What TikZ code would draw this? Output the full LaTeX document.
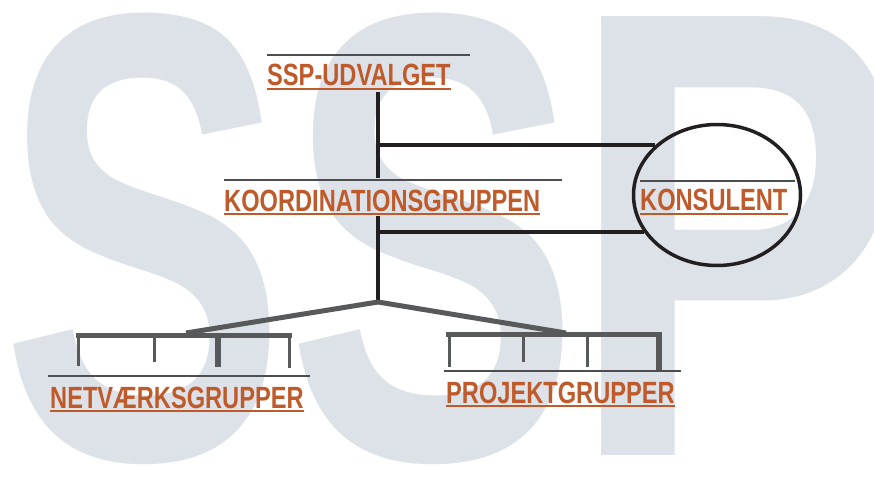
\documentclass[tikz,border=0pt]{standalone}
\usepackage{fontspec}
\setmainfont{Liberation Sans}
\usepackage{graphicx}
\usepackage{tikz}
\usetikzlibrary{shapes.geometric}
\definecolor{rust}{HTML}{BF5A2B}
\definecolor{ssp}{HTML}{DDE2E9}
\definecolor{ink}{HTML}{231F20}
\definecolor{steel}{HTML}{58595B}
\definecolor{rulegray}{HTML}{4D4D4F}
\tikzset{trunk/.style={draw=ink, line width=4.5pt}}
\tikzset{branch/.style={draw=steel, line width=5pt}}
\tikzset{leg/.style={draw=steel, line width=3pt}}
\tikzset{overline/.style={draw=rulegray, line width=1.3pt}}
\tikzset{underline/.style={draw=rust, line width=1.6pt}}
\tikzset{title/.style={text=rust, font=\bfseries\fontsize{30.7}{32}\selectfont}}
\tikzset{bgletter/.style={text=ssp, font=\bfseries\fontsize{638}{638}\selectfont}}
\tikzset{ring/.style={draw=ink, ellipse, line width=3.5pt, minimum width=167pt, minimum height=141pt, anchor=center}}
\newcommand{\condensed}[1]{\scalebox{0.77}[1]{#1}}

\begin{document}
\begin{tikzpicture}[x=1pt, y=-1pt]
	% Default action for each node
	\tikzstyle{every node}=[inner sep=0pt, anchor=base west];
	\useasboundingbox (0,0) rectangle (874,476);

	% BACKGROUND
	\begin{scope}
		\clip (0,0) rectangle (874,476);
		\node[bgletter] (bg s1) at (1,458) {\scalebox{0.67}[1]{S}};
		\node[bgletter] (bg s2) at (286,458) {\scalebox{0.69}[1]{S}};
		\node[bgletter] (bg p) at (567,455) {\scalebox{0.8}[1]{P}};
	\end{scope}

	% LABELS
	\node[title] (udvalg) at (267,86) {\condensed{SSP-UDVALGET}};
	\node[title] (koord) at (224,211) {\condensed{KOORDINATIONSGRUPPEN}};
	\node[title] (konsulent) at (640,210) {\condensed{KONSULENT}};
	\node[title] (netvaerk) at (50,408) {\condensed{NETVÆRKSGRUPPER}};
	\node[title] (projekt) at (446,403) {\condensed{PROJEKTGRUPPER}};

	% over- and underlines
	\draw[overline] ([yshift=31pt]udvalg.base west) -- ++(203,0);
	\draw[overline] ([yshift=31pt]koord.base west) -- ++(338,0);
	\draw[overline] ([yshift=29pt]konsulent.base west) -- ++(155,0);
	\draw[overline] ([xshift=-2pt,yshift=32pt]netvaerk.base west) -- ++(262,0);
	\draw[overline] ([xshift=-2pt,yshift=32pt]projekt.base west) -- ++(237,0);

	\draw[underline] ([yshift=-3pt]udvalg.base west) -- ([yshift=-3pt]udvalg.base east);
	\draw[underline] ([yshift=-3pt]koord.base west) -- ([yshift=-3pt]koord.base east);
	\draw[underline] ([yshift=-4pt]konsulent.base west) -- ([yshift=-4pt]konsulent.base east);
	\draw[underline] ([yshift=-3pt]netvaerk.base west) -- ([yshift=-3pt]netvaerk.base east);
	\draw[underline] ([yshift=-3pt]projekt.base west) -- ([yshift=-3pt]projekt.base east);

	% RING
	\node[ring] (ring) at (717,195) {};

	% Trunk
	\coordinate (fork) at (378,302);
	\coordinate (hook up) at (378,145);
	\coordinate (hook down) at (378,232);
	\draw[trunk] ([yshift=-6pt]udvalg.base -| fork) -- ([yshift=33pt]koord.base -| fork);
	\draw[trunk] ([yshift=-5pt]koord.base -| fork) -- (fork);
	\draw[trunk] (hook up) -- (hook up -| ring.141);
	\draw[trunk] (hook down) -- (hook down -| ring.207);

	% Branches
	\coordinate (net joint) at (186,333);		\coordinate (proj joint) at (566,333);
	\coordinate (net bar west) at (76,335);		\coordinate (net bar east) at (292,335);
	\coordinate (proj bar west) at (446,334);	\coordinate (proj bar east) at (662,334);

	\draw[branch] (fork) -- (net joint);
	\draw[branch] (fork) -- (proj joint);
	\draw[branch] (net bar west) -- (net bar east);
	\draw[branch] (proj bar west) -- (proj bar east);

	\foreach \x/\y/\w in {78/366/3, 154/362/3, 218/367/5.5, 289/368/3}
		\draw[leg, line width=\w pt] (\x,335) -- (\x,\y);
	\foreach \x/\y/\w in {449/367/3, 523/362/3, 587/367/3, 659/370/5.5}
		\draw[leg, line width=\w pt] (\x,334) -- (\x,\y);
\end{tikzpicture}
\end{document}
